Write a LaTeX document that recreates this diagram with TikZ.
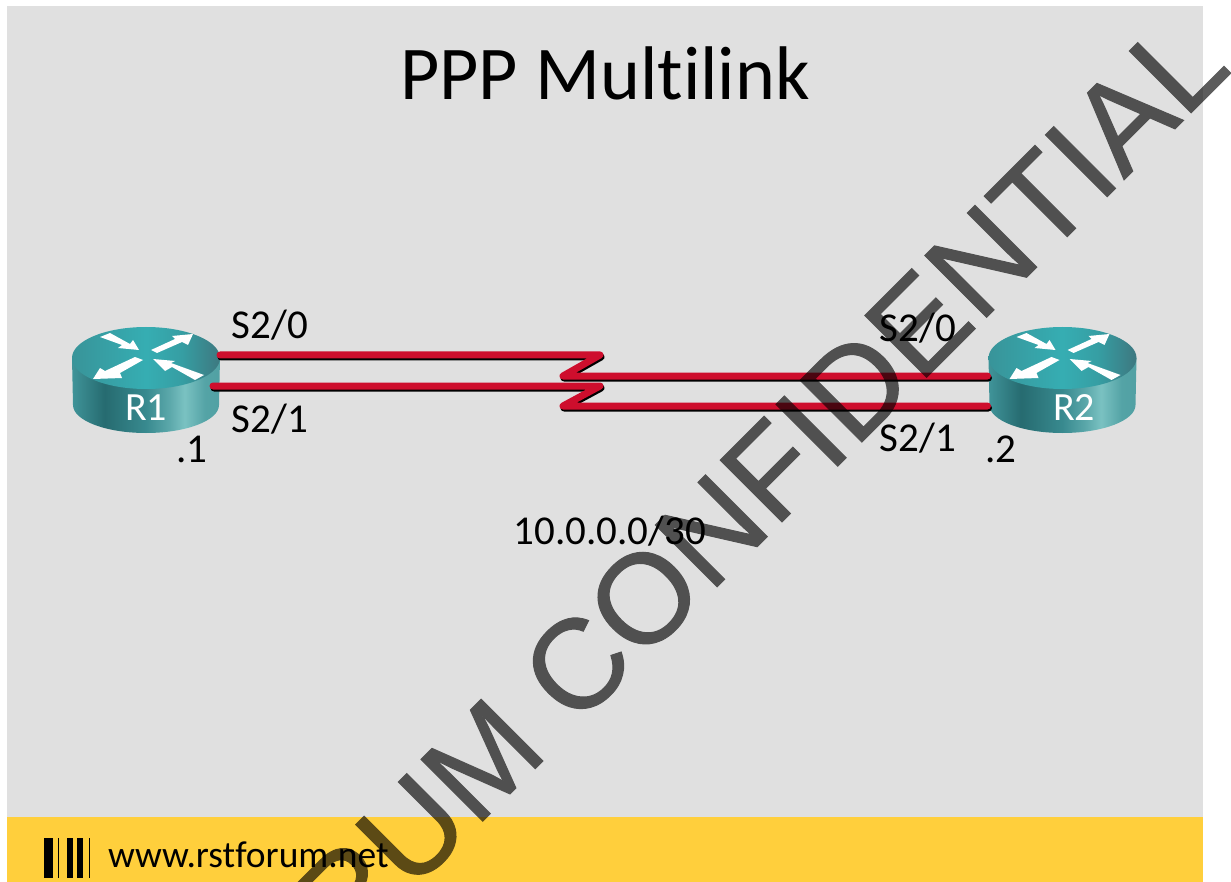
\documentclass[tikz,border=0pt]{standalone}
\usepackage{fontspec}
\setmainfont[Ligatures=NoCommon]{Carlito}
\newfontfamily\wmfont[FakeBold=0.8]{Liberation Sans}
\usetikzlibrary{calc}
\definecolor{slidegray}{HTML}{E0E0E0}
\definecolor{footyellow}{HTML}{FFCF3C}
\definecolor{linkred}{HTML}{CE0E2D}
\pgfdeclarehorizontalshading{routerside}{100bp}{
  rgb(0bp)=(.25,.58,.60);
  rgb(25bp)=(.25,.58,.60);
  rgb(36bp)=(.15,.42,.44);
  rgb(50bp)=(.22,.54,.56);
  rgb(58bp)=(.36,.66,.67);
  rgb(63bp)=(.48,.76,.76);
  rgb(70bp)=(.33,.64,.65);
  rgb(100bp)=(.26,.58,.60)}
\pgfdeclarehorizontalshading{routertop}{100bp}{
  rgb(0bp)=(.22,.58,.60);
  rgb(25bp)=(.22,.58,.60);
  rgb(50bp)=(.21,.68,.70);
  rgb(62bp)=(.21,.62,.64);
  rgb(75bp)=(.24,.47,.50);
  rgb(100bp)=(.24,.47,.50)}
\tikzset{
  routerbody/.style={minimum width=148pt,minimum height=106pt,inner sep=0pt,outer sep=0pt},
  arrowwhite/.style={fill=white,draw=none},
  lbl/.style={font=\fontsize{41}{41}\selectfont,text=black,inner sep=0pt},
  routerlbl/.style={font=\fontsize{40}{40}\selectfont,text=white,inner sep=0pt},
  serialshadow/.style={draw=black,line width=7pt,line cap=round,line join=round,transform canvas={xshift=1pt,yshift=-2pt}},
  serialred/.style={draw=linkred,line width=7pt,line cap=round,line join=round},
  watermark/.style={font=\wmfont\fontsize{127}{127}\selectfont,text=black,rotate=45,inner sep=0pt},
  pics/ciscorouter/.style={code={
    \path[shading=routerside] (-74,0) -- (-73,47) arc[start angle=180,end angle=0,x radius=73,y radius=28] -- (74,0) -- cycle;
    \path[shading=routertop] (0,0) ellipse[x radius=74,y radius=31];
    \fill[arrowwhite] (-46,-21) -- (-36,-25) -- (-16,-14) -- (-13,-18) -- (-7,-8) -- (-28,-10) -- (-24,-13) -- cycle;
    \fill[arrowwhite] (5,-8) -- (29,-19) -- (26,-22) -- (47,-24) -- (42,-13) -- (36,-16) -- (11,-5) -- cycle;
    \fill[arrowwhite] (-11,-1) -- (-3,2) -- (-26,15) -- (-24,20) -- (-53,21) -- (-46,10) -- (-41,13) -- cycle;
    \fill[arrowwhite] (58,17) -- (49,22) -- (26,9) -- (19,13) -- (7,1) -- (29,3) -- (25,5) -- cycle;
  }}
}
\begin{document}
\begin{tikzpicture}[x=1pt,y=-1pt]
\useasboundingbox (0,0) rectangle (1231,882);
\fill[white] (0,0) rectangle (1231,882);
\fill[slidegray] (7,6) rectangle (1203,882);
\fill[footyellow] (7,817) rectangle (1203,882);
% footer bars
\fill[black] (44,838) rectangle (53,878);
\fill[black] (57.5,838) rectangle (58.5,878);
\fill[black] (67,838) rectangle (73,878);
\fill[black] (77,838) rectangle (83,878);
\fill[black] (89,838) rectangle (90,878);
\node[font=\fontsize{37.5}{37.5}\selectfont,anchor=base west,inner sep=0pt] (site) at (108,867) {www.rstforum.net};
\node[font=\fontsize{76}{76}\selectfont,anchor=base,inner sep=0pt] (title) at (605,100) {PPP Multilink};
% routers
\pic at (146,358) {ciscorouter};
\pic at (1062.5,358) {ciscorouter};
\node[routerbody] (R1) at (146,380) {};
\node[routerbody] (R2) at (1062.5,380) {};
\node[routerlbl] (R1t) at (146,408) {R1};
\node[routerlbl] (R2t) at (1074,408) {R2};
% serial links
\coordinate (k1) at (600,355);
\coordinate (k2) at (563,376);
\coordinate (k3) at (600,386);
\coordinate (k4) at (563,406);
\foreach \ya/\yb/\ka/\kb/\xs in {25/4/k1/k2/0,-6/-26/k3/k4/-7}{
  \draw[serialshadow] ([xshift=\xs pt,yshift=\ya pt]R1.east) -- (\ka) -- (\kb) -- ([xshift=-1pt,yshift=\yb pt]R2.west);
  \draw[serialred] ([xshift=\xs pt,yshift=\ya pt]R1.east) -- (\ka) -- (\kb) -- ([xshift=-1pt,yshift=\yb pt]R2.west);
}
% labels
\node[lbl] (a) at (270,325) {S2/0};
\node[lbl] (b) at (270,419) {S2/1};
\node[lbl] (c) at (918,328) {S2/0};
\node[lbl] (d) at (918,438) {S2/1};
\node[lbl] (e) at (192,449) {.1};
\node[lbl] (f) at (1001,449) {.2};
\node[lbl] (g) at (610,531) {10.0.0.0/30};
% watermark
\begin{scope}[transparency group,opacity=.64]
\clip (0,0) rectangle (1231,882);
\node[watermark,anchor=base east] (wm) at (1234,70) {RUM CONFIDENTIAL};
\end{scope}
\end{tikzpicture}
\end{document}
